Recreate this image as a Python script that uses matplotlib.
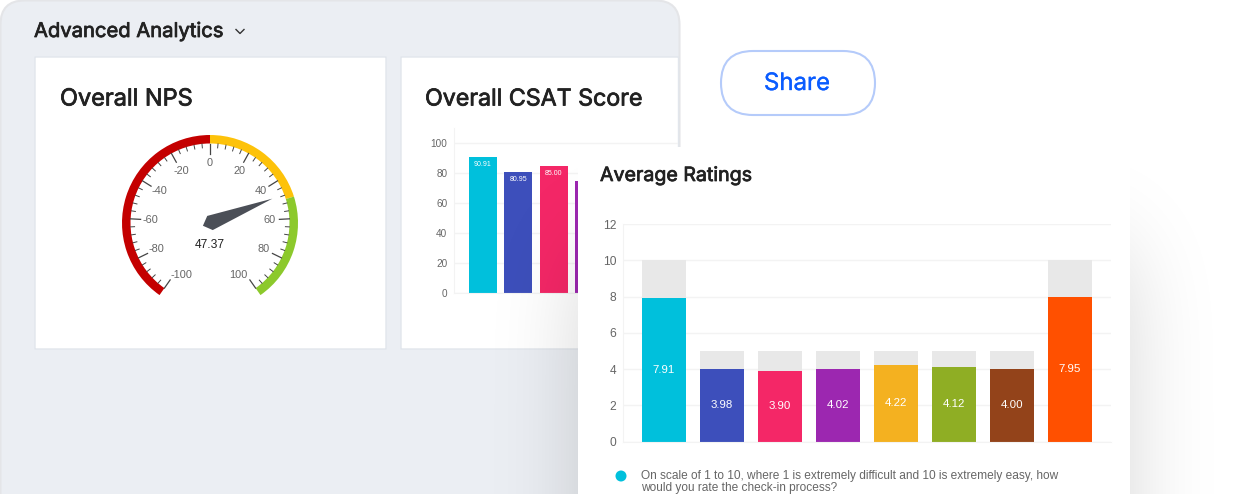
# dashboard mockup: nps gauge, csat bars and average ratings card on top
import math
import numpy as np
import matplotlib
matplotlib.use('Agg')
import matplotlib.pyplot as plt
import matplotlib.patheffects as pe
from matplotlib.patches import FancyBboxPatch, Wedge, Polygon, Circle

W, H = 1240, 494

# gauge data
nps_value = 47.37
gauge_bands = [(-100, 0), (0, 50), (50, 100)]
gauge_labels = [-100, -80, -60, -40, -20, 0, 20, 40, 60, 80, 100]

# csat data
csat_values = [90.91, 80.95, 85.00, 74.67]
csat_labels = ['90.91', '80.95', '85.00', '']
csat_ticks = [0, 20, 40, 60, 80, 100]

# average ratings data
rating_values = [7.91, 3.98, 3.90, 4.02, 4.22, 4.12, 4.00, 7.95]
rating_max = [10, 5, 5, 5, 5, 5, 5, 10]
rating_ticks = [0, 2, 4, 6, 8, 10, 12]

band_colors = ['#c40000', '#fdc20a', '#8cc92c']
bar_colors = ['#00c0dc', '#3d4fbb', '#f42767', '#9c27b0', '#f4b120', '#8fae24', '#93431a', '#ff5000']

plt.rcParams['font.family'] = ['Liberation Sans', 'DejaVu Sans']


def px(size):
    return size * 0.72


def pixel_axes(left, top, right, bottom, zorder):
    return fig.add_axes([left / W, 1 - bottom / H, (right - left) / W, (bottom - top) / H], zorder=zorder)


def round_box(ax, x0, y0, x1, y1, r, **kw):
    box = FancyBboxPatch((x0, y0), x1 - x0, y1 - y0, boxstyle='round,pad=0,rounding_size=%s' % r, **kw)
    ax.add_patch(box)
    return box


def heading(ax, x, y, s, size):
    # no semibold Inter here, thicken the regular one with a thin stroke
    ax.text(x, y, s, family='Inter', size=px(size), color='#222222', va='center',
            path_effects=[pe.withStroke(linewidth=0.55, foreground='#222222')])


def style_bar_axes(ax, ticks, size):
    ax.set_yticks(ticks)
    ax.set_xticks([])
    ax.tick_params(axis='y', length=0, labelsize=px(size), labelcolor='#666666', pad=4.7)
    ax.grid(axis='y', color='#f3f3f3', lw=1)
    ax.set_axisbelow(True)
    ax.patch.set_alpha(0)
    for name in ['top', 'right']:
        ax.spines[name].set_visible(False)
    ax.spines['left'].set_color('#f3f3f3')
    ax.spines['bottom'].set_color('#f3f3f3')


fig = plt.figure(figsize=(W / 100, H / 100), dpi=100, facecolor='white')

# background panel and cards
bg = pixel_axes(0, 0, W, H, 0)
bg.set_xlim(0, W)
bg.set_ylim(H, 0)
bg.axis('off')
round_box(bg, 0.5, 0.5, 679.5, 560, 24, fc='#ebeef3', ec='#e4e5e8', lw=1.5)
round_box(bg, 35, 57, 386, 349, 0.1, fc='white', ec='#e2e6ec', lw=1)
round_box(bg, 401, 57, 678.5, 349, 0.1, fc='white', ec='#e2e6ec', lw=1)
heading(bg, 34, 32, 'Advanced Analytics', 20.2)
bg.plot([236, 240, 244], [29.5, 33.5, 29.5], color='#333333', lw=1)
heading(bg, 60, 99.5, 'Overall NPS', 23.5)
heading(bg, 425, 99.5, 'Overall CSAT Score', 23.2)

# share button
round_box(bg, 721, 51, 875, 115, 32, fc='white', ec='#b5cbfa', lw=1.5)
bg.text(797, 84, 'Share', family='Inter', size=px(24), color='#0a5cff', ha='center', va='center',
        path_effects=[pe.withStroke(linewidth=0.25, foreground='#0a5cff')])

# gauge, pixel units around the centre
cx, cy = 210, 223
gauge = pixel_axes(cx - 100, cy - 100, cx + 100, cy + 100, 1)
gauge.set_xlim(-100, 100)
gauge.set_ylim(-100, 100)
gauge.axis('off')
deg_per_unit = 1.45


def to_math_angle(v):
    return 90 - v * deg_per_unit


for (lo, hi), c in zip(gauge_bands, band_colors):
    gauge.add_patch(Wedge((0, 0), 88, to_math_angle(hi), to_math_angle(lo), width=8.5, fc=c, ec='none'))

for v in range(-100, 101, 4):
    a = np.radians(to_math_angle(v))
    major = v % 20 == 0
    r0 = 69.5 if major else 75.5
    gauge.plot([r0 * np.cos(a), 79.5 * np.cos(a)], [r0 * np.sin(a), 79.5 * np.sin(a)],
               color='#444444', lw=0.9 if major else 0.7)

for v in gauge_labels:
    a = np.radians(to_math_angle(v))
    dx, dy = (0, 0)
    if abs(v) == 100:
        dx, dy = (-6 if v > 0 else 6), -3
    gauge.text(60 * np.cos(a) + dx, 60 * np.sin(a) + dy, str(v), size=px(11), color='#666666',
               ha='center', va='center')

a = np.radians(to_math_angle(nps_value))
u = np.array([np.cos(a), np.sin(a)])
n = np.array([-u[1], u[0]])
gauge.add_patch(Polygon([67 * u, 7.6 * n, -7.6 * u, -7.6 * n], fc='#4b4f57', ec='none'))
gauge.text(0, -22, '%.2f' % nps_value, size=px(12), color='#222222', ha='center', va='center')

# csat chart
csat = pixel_axes(454, 128, 678, 293, 1)
csat_x = np.arange(len(csat_values))
csat.bar(csat_x, csat_values, width=0.8, color=bar_colors[:4])
csat.set_xlim(-0.82, 5.52)
csat.set_ylim(0, 110)
style_bar_axes(csat, csat_ticks, 10)
for x, v, t in zip(csat_x, csat_values, csat_labels):
    csat.text(x, v - 5.5, t, size=px(7), color='white', ha='center', va='center')

# shadow and front card
top = pixel_axes(0, 0, W, H, 2)
top.set_xlim(0, W)
top.set_ylim(H, 0)
top.axis('off')
top.patch.set_alpha(0)

erf = np.vectorize(math.erf)
xs = np.arange(W) + 0.5
ys = np.arange(H) + 0.5
shade_x = 0.5 * (erf((xs - 578) / 60) - erf((xs - 1130) / 60))
shade_y = 0.5 * (erf((ys - 250) / 70) - erf((ys - 900) / 70))
shade = np.zeros((H, W, 4))
shade[..., 3] = 0.16 * np.outer(shade_y, shade_x)
top.imshow(shade, extent=(0, W, H, 0), aspect='auto', interpolation='bilinear')
top.set_xlim(0, W)
top.set_ylim(H, 0)

round_box(top, 578, 147, 1130, 560, 10, fc='white', ec='none')
heading(top, 600, 176, 'Average Ratings', 19.6)

# legend row of the front card
top.add_patch(Circle((621, 476), 5.5, fc=bar_colors[0], ec='none'))
top.text(641, 476, 'On scale of 1 to 10, where 1 is extremely difficult and 10 is extremely easy, how',
         size=px(11.95), color='#666666', va='center')
top.text(641, 493.5, 'would you rate the check-in process?', size=px(11.95), color='#666666', va='bottom')

# average ratings chart
ratings = pixel_axes(623, 224, 1111, 441.5, 3)
x = np.arange(len(rating_values))
ratings.bar(x, rating_max, width=0.75, color='#e8e8e8')
ratings.bar(x, rating_values, width=0.75, color=bar_colors)
ratings.set_xlim(-0.707, 7.707)
ratings.set_ylim(0, 12)
style_bar_axes(ratings, rating_ticks, 12)
for xi, v in zip(x, rating_values):
    ratings.text(xi, v / 2, '%.2f' % v, size=px(11.5), color='white', ha='center', va='center')

fig.savefig('out.png', dpi=100)
